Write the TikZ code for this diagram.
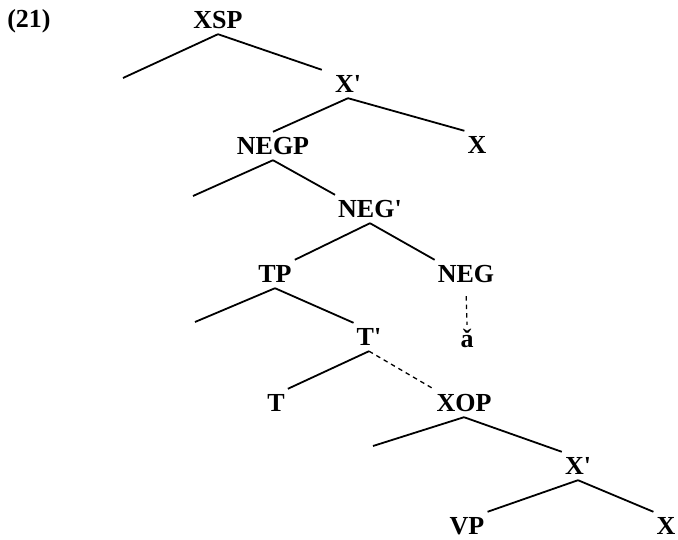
\documentclass[tikz,border=0pt]{standalone}
\usepackage{fontspec}
\setmainfont{Liberation Serif}
\tikzset{
  lbl/.style={inner xsep=3pt, inner ysep=5.5pt, text height=17pt, text depth=0pt,
    font=\bfseries\fontsize{26}{30}\selectfont},
  branch/.style={line width=1.8pt},
  dashbranch/.style={line width=1.3pt, dash pattern=on 4.5pt off 4pt},
}
\newcommand{\barmark}{\textquotesingle}

\begin{document}
\begin{tikzpicture}[x=1pt, y=-1pt]
\useasboundingbox (0,0) rectangle (678,540);
% labels
\node[lbl] (ex) at (29,19) {(21)};
\node[lbl] (xsp) at (218,20) {XSP};
\node[lbl] (xbarA) at (348,84) {X\barmark};
\node[lbl] (xA) at (477,145) {X};
\node[lbl] (negp) at (273,146) {NEGP};
\node[lbl] (negbar) at (370,209) {NEG\barmark};
\node[lbl] (tp) at (275,274) {TP};
\node[lbl] (neg) at (466,274) {NEG};
\node[lbl] (acar) at (467,339) {ǎ};
\node[lbl] (tbar) at (369,337) {T\barmark};
\node[lbl] (t) at (276,403) {T};
\node[lbl] (xop) at (464,403) {XOP};
\node[lbl] (xbarB) at (578,466) {X\barmark};
\node[lbl] (vp) at (467,526) {VP};
\node[lbl] (xB) at (666,526) {X};
% empty specifiers
\coordinate (specA) at (123,78);
\coordinate (specB) at (193,196);
\coordinate (specC) at (195,322);
\coordinate (specD) at (373,446);
% branches
\draw[branch] (xsp.south) -- (specA);
\draw[branch] (xsp.south) -- ([xshift=-10pt]xbarA.north west);
\draw[branch] (xbarA.south) -- (negp.north);
\draw[branch] (xbarA.south) -- (xA.north west);
\draw[branch] (negp.south) -- (specB);
\draw[branch] (negp.south) -- (negbar.north west);
\draw[branch] (negbar.south) -- (tp.north east);
\draw[branch] (negbar.south) -- (neg.north west);
\draw[dashbranch, shorten <=8pt] (neg.south) -- (acar.north);
\draw[branch] (tp.south) -- (specC);
\draw[branch] (tp.south) -- (tbar.north west);
\draw[branch] (tbar.south) -- (t.north east);
\draw[dashbranch] (tbar.south) -- (xop.north west);
\draw[branch] (xop.south) -- (specD);
\draw[branch] (xop.south) -- (xbarB.north west);
\draw[branch] (xbarB.south) -- (vp.north east);
\draw[branch] (xbarB.south) -- (xB.north west);
\end{tikzpicture}
\end{document}
